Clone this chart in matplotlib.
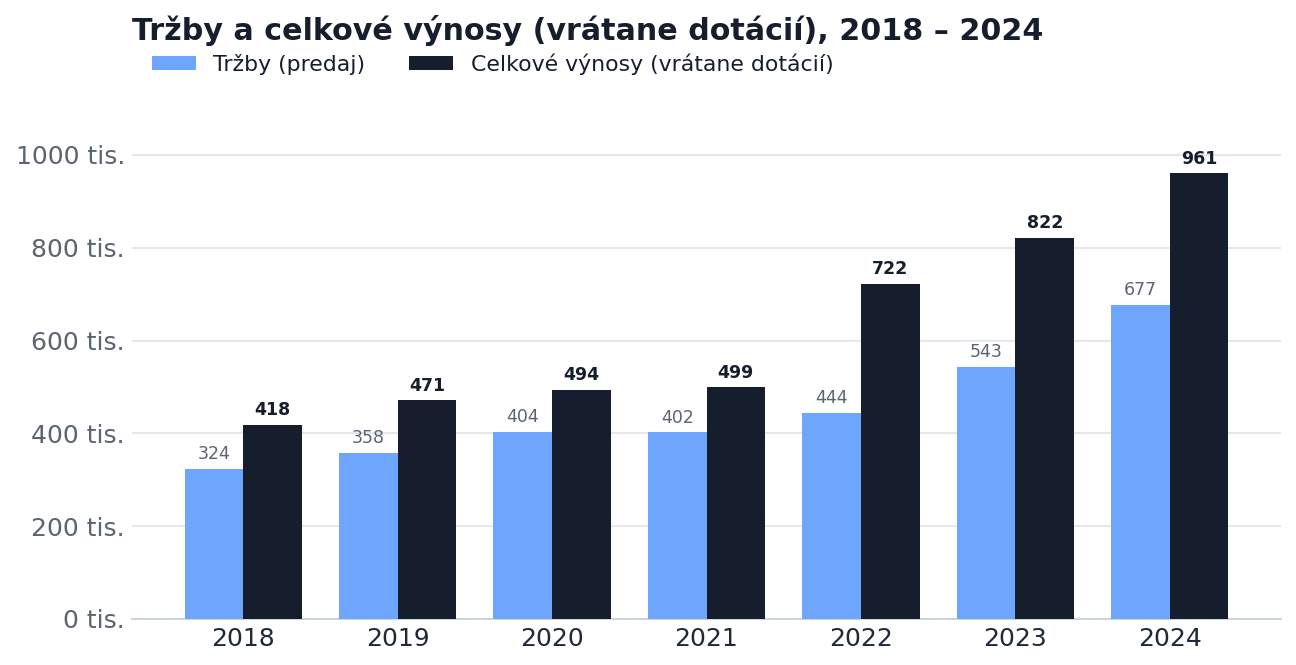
import matplotlib.pyplot as plt
import numpy as np

# data (thousands)
years = ["2018", "2019", "2020", "2021", "2022", "2023", "2024"]
trzby = [324, 358, 404, 402, 444, 543, 677]
vynosy = [418, 471, 494, 499, 722, 822, 961]
yticks = [0, 200, 400, 600, 800, 1000]

light = "#6ea6fd"
dark = "#161e2e"
grid_col = "#e5e7eb"
muted = "#5b6472"

plt.rcParams["font.family"] = ["DejaVu Sans"]

fig = plt.figure(figsize=(12.96, 6.65), dpi=100)
ax = fig.add_axes([132 / 1296, 46 / 665, 1149 / 1296, 490 / 665])

x = np.arange(len(years))
w = 0.38
b1 = ax.bar(x - w / 2, trzby, w, color=light, label="Tržby (predaj)", zorder=3)
b2 = ax.bar(x + w / 2, vynosy, w, color=dark, label="Celkové výnosy (vrátane dotácií)", zorder=3)

for rect, v in zip(b1, trzby):
    ax.annotate(str(v), (rect.get_x() + rect.get_width() / 2, v),
                xytext=(0, 4), textcoords="offset points",
                ha="center", va="bottom", fontsize=12.5, color=muted)
for rect, v in zip(b2, vynosy):
    ax.annotate(str(v), (rect.get_x() + rect.get_width() / 2, v),
                xytext=(0, 4), textcoords="offset points",
                ha="center", va="bottom", fontsize=12.5, color=dark, fontweight="bold")

ax.set_xlim(-0.72, len(years) - 1 + 0.72)
ax.set_ylim(0, 1056)
ax.set_xticks(x)
ax.set_xticklabels(years, fontsize=18, color="#1f2937")
ax.set_yticks(yticks)
ax.set_yticklabels([f"{t} tis." for t in yticks], fontsize=18, color=muted)
ax.tick_params(axis="both", length=0)
ax.tick_params(axis="x", pad=6)
ax.tick_params(axis="y", pad=5)

ax.grid(axis="y", color=grid_col, linewidth=1.5, zorder=0)
for s in ["top", "right", "left"]:
    ax.spines[s].set_visible(False)
ax.spines["bottom"].set_color("#cbd5e1")
ax.spines["bottom"].set_linewidth(1.5)

fig.text(132 / 1296, 1 - 31 / 665, "Tržby a celkové výnosy (vrátane dotácií), 2018 – 2024",
         fontsize=21.7, fontweight="bold", color=dark, ha="left", va="center")

fig.legend(loc="center left", bbox_to_anchor=(132 / 1296, 1 - 64 / 665), ncol=2,
           frameon=False, fontsize=15.8, handlelength=2.0, handleheight=0.65,
           columnspacing=2.0, handletextpad=0.8, labelcolor=dark)

fig.savefig("out.png", dpi=100)
